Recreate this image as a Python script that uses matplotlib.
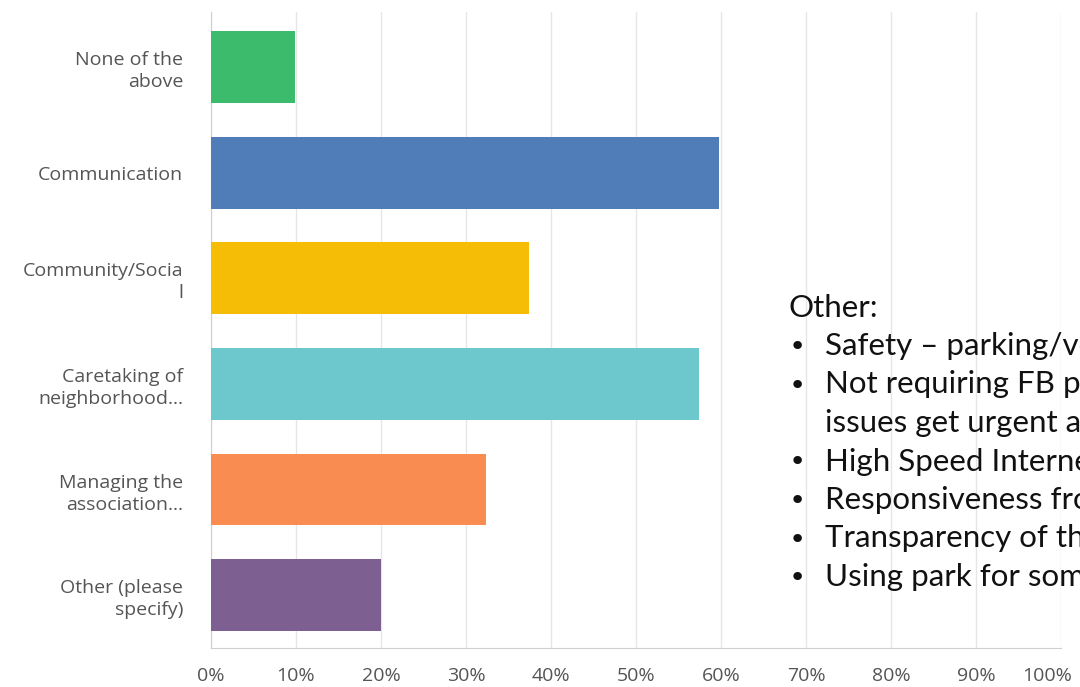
import matplotlib
matplotlib.use('Agg')
import matplotlib.pyplot as plt
import matplotlib.transforms as mtransforms
from matplotlib.ticker import FuncFormatter

# 选项与百分比（自上而下）
categories = ['None of the\nabove', 'Communication', 'Community/Socia\nl',
              'Caretaking of\nneighborhood...', 'Managing the\nassociation...',
              'Other (please\nspecify)']
values = [9.9, 59.8, 37.4, 57.4, 32.4, 20.0]
colors = ['#3cbb6c', '#507cb7', '#f6bd06', '#6cc8cc', '#f98c51', '#7e5f91']
x_ticks = [0, 10, 20, 30, 40, 50, 60, 70, 80, 90, 100]

note_title = 'Other:'
note_lines = [
    ('•', 'Safety – parking/vehicles on the street'),
    ('•', 'Not requiring FB page for communication'),
    ('', 'issues get urgent and time sensitive'),
    ('•', 'High Speed Internet in the neighborhood'),
    ('•', 'Responsiveness from the board'),
    ('•', 'Transparency of the association'),
    ('•', 'Using park for some events'),
]

fig = plt.figure(figsize=(10.8, 6.87), dpi=100)
ax = fig.add_axes([211 / 1080, 39 / 687, 850 / 1080, 636 / 687])

y = list(range(len(categories)))
ax.barh(y, values, height=0.68, color=colors, zorder=3)
ax.set_ylim(len(categories) - 0.5, -0.52)
ax.set_xlim(0, 100)

ax.set_xticks(x_ticks)
ax.xaxis.set_major_formatter(FuncFormatter(lambda v, p: f'{v:.0f}%'))
ax.set_yticks(y)
ax.set_yticklabels(categories, fontsize=14, color='#555555', family='Open Sans',
                   linespacing=1.3)
for lab in ax.get_yticklabels():
    lab.set_multialignment('right')
for lab in ax.get_xticklabels():
    lab.set_fontsize(14)
    lab.set_color('#555555')
    lab.set_family('Open Sans')

ax.tick_params(axis='both', length=0)
ax.tick_params(axis='y', pad=20)
ax.tick_params(axis='x', pad=14)

# 100% 标签略向左收，避免贴边
shift = mtransforms.ScaledTranslation(-14 / 100, 0, fig.dpi_scale_trans)
last = ax.xaxis.get_major_ticks()[-1].label1
last.set_transform(last.get_transform() + shift)

ax.grid(axis='x', color='#e6e6e6', linewidth=1, zorder=0)
for side in ['top', 'right']:
    ax.spines[side].set_visible(False)
ax.spines['left'].set_color('#cfcfcf')
ax.spines['bottom'].set_color('#cfcfcf')

# 右侧说明文字（超出画面部分被裁掉）
fig.text(789 / 1080, 1 - 317 / 687, note_title, fontsize=22.5, family='Lato',
         color='#111111', va='baseline')
base = 355
for i, (bullet, txt) in enumerate(note_lines):
    yy = 1 - (base + i * 38.5) / 687
    if bullet:
        fig.text(789 / 1080, yy, bullet, fontsize=21, family='DejaVu Sans',
                 color='#111111', va='baseline')
    fig.text(825 / 1080, yy, txt, fontsize=22.5, family='Lato',
             color='#111111', va='baseline')

fig.savefig('out.png', dpi=100)
